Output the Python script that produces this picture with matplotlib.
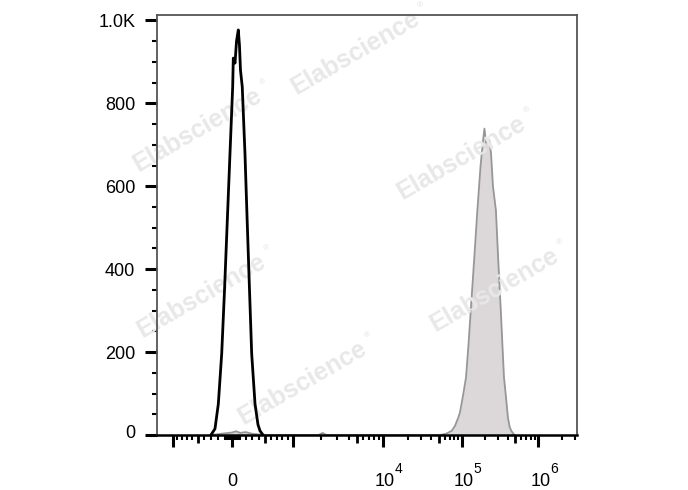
import numpy as np
import matplotlib.pyplot as plt
import matplotlib.transforms as mtransforms

plt.rcParams['font.family'] = ['Liberation Sans', 'DejaVu Sans']

# control histogram (black outline)
black_x = [-300, -241, -193, -145, -105, -66, -28, 10, 19, 44, 66, 92, 109, 124, 150, 190, 223, 258, 291, 342, 388, 420, 468]
black_y = [0, 15, 75, 196, 350, 517, 680, 840, 909, 897, 950, 977, 940, 880, 840, 680, 517, 350, 196, 75, 25, 10, 0]

# stained sample histogram (grey filled)
grey_x = [-300, -200, -100, 0, 60, 120, 200, 300, 420, 560, 1900, 2100, 2300,
          51100, 61500, 73400, 81300, 90000, 94900, 104900, 113700, 122600, 130900,
          144500, 159400, 175400, 186200, 196600, 206800, 228000, 240200, 255000,
          279000, 300000, 324000, 344000, 357000, 376000, 403000, 424000, 446000, 492000]
grey_y = [0, 2, 4, 6, 9, 5, 7, 3, 1, 0, 0, 5, 0,
          0, 3, 10, 22, 42, 55, 99, 139, 220, 300,
          420, 542, 650, 700, 739, 705, 711, 680, 600,
          542, 420, 300, 200, 139, 99, 42, 20, 10, 0]

# biexponential-like display scale (value -> display channel)
scale_v = np.array([-1500, -1000, -500, 0, 500, 1000, 2000, 3000, 4000, 5000, 1e4, 2e4, 3e4,
                    5e4, 1e5, 2e5, 5e5, 1e6, 2e6, 3.2e6])
scale_ch = np.array([0, 15.7, 40.7, 75, 108, 135.7, 163.7, 180.3, 192, 199.7, 225.7, 251.3, 264,
                     282.3, 304.7, 328, 358, 381.3, 404.7, 420])
scale_g = np.arcsinh(scale_v / 1000)


def fwd(v):
    return np.interp(np.arcsinh(np.asarray(v, dtype=float) / 1000), scale_g, scale_ch)


def inv(c):
    return 1000 * np.sinh(np.interp(np.asarray(c, dtype=float), scale_ch, scale_g))


fig = plt.figure(figsize=(6.88, 4.90), dpi=100)
ax = fig.add_axes([157 / 688, 1 - 435 / 490, 420 / 688, 420 / 490])
ax.set_xscale('function', functions=(fwd, inv))

ax.fill_between(grey_x, grey_y, 0, color='#dcd8da', zorder=1, lw=0)
ax.plot(grey_x, grey_y, color='#979797', lw=1.3, zorder=1.2)
ax.plot(black_x, black_y, color='black', lw=2.0, zorder=3)

ax.set_xlim(-1500, 3.2e6)
ax.set_ylim(0, 1013)

# watermarks
marks = [(355, 53), (197, 130), (461, 158), (201, 296), (494, 290), (302, 383)]
for mx, my in marks:
    ax.text(mx / 688, 1 - my / 490, 'Elabscience', transform=fig.transFigure, rotation=30,
            rotation_mode='anchor', ha='center', va='center', fontsize=18, fontweight='bold',
            color='#e8e8e8', zorder=2, clip_on=False)
    ax.annotate('®', xy=(mx / 688, 1 - my / 490), xycoords='figure fraction',
                xytext=(47, 34), textcoords='offset points', fontsize=6,
                color='#e2e2e2', ha='center', va='center', zorder=2, annotation_clip=False)

# x ticks
major = [-1000, 0, 1000, 1e4, 1e5, 1e6]
medium = [-500, 500, 5e3, 5e4, 5e5]
minor = [-900, -800, -700, -600, -400, -300, -200] + list(range(-100, 121, 20)) \
    + [200, 300, 400, 600, 700, 800, 900]
for dec in [1e3, 1e4, 1e5]:
    minor += [k * dec for k in [2, 3, 4, 6, 7, 8, 9]]
minor += [2e6, 3e6]
minor = sorted(set(minor + medium) - {0})

ax.set_xticks(major)
ax.set_xticklabels([''] * len(major))
ax.set_xticks(minor, minor=True)
ax.tick_params(axis='x', which='major', direction='out', length=8.6, width=2.2)
ax.tick_params(axis='x', which='minor', direction='out', length=3.6, width=1.5)
locs = ax.xaxis.get_minorticklocs()
for loc, t in zip(locs, ax.xaxis.get_minor_ticks(len(locs))):
    if any(abs(loc - m) < 1e-6 * max(1, abs(m)) for m in medium):
        t.tick1line.set_markersize(6)
        t.tick1line.set_markeredgewidth(2)

# x tick labels: "0", and powers of ten drawn as base + raised exponent
xt = ax.get_xaxis_transform()
label_pos = [0, 1e4, 1e5, 1e6]
label_base = ['0', '10', '10', '10']
label_exp = ['', '4', '5', '6']
for xv, base, ex in zip(label_pos, label_base, label_exp):
    dx = 0 if not ex else 2
    tr = xt + mtransforms.ScaledTranslation(dx / 100, -51 / 100, fig.dpi_scale_trans)
    ax.text(xv, 0, base, transform=tr, ha='center', va='baseline', fontsize=13, clip_on=False)
    if ex:
        tr2 = xt + mtransforms.ScaledTranslation(12 / 100, -38 / 100, fig.dpi_scale_trans)
        ax.text(xv, 0, ex, transform=tr2, ha='left', va='baseline', fontsize=10, clip_on=False)

# y ticks
ax.set_yticks([0, 200, 400, 600, 800, 1000])
ax.set_yticklabels(['0', '200', '400', '600', '800', '1.0K'], fontsize=13)
ax.set_yticks([v for v in range(50, 1001, 50) if v % 200], minor=True)
ax.tick_params(axis='y', which='major', direction='out', length=8.6, width=2.2, pad=7)
ax.tick_params(axis='y', which='minor', direction='out', length=3.6, width=1.5)
zero_lab = ax.get_yticklabels()[0]
zero_lab.set_transform(zero_lab.get_transform() + mtransforms.ScaledTranslation(0, 0.04, fig.dpi_scale_trans))

for side in ['top', 'right', 'left']:
    ax.spines[side].set_color('#555555')
    ax.spines[side].set_linewidth(1.3)
ax.spines['bottom'].set_color('black')
ax.spines['bottom'].set_linewidth(1.8)

fig.savefig('out.png', dpi=100)
